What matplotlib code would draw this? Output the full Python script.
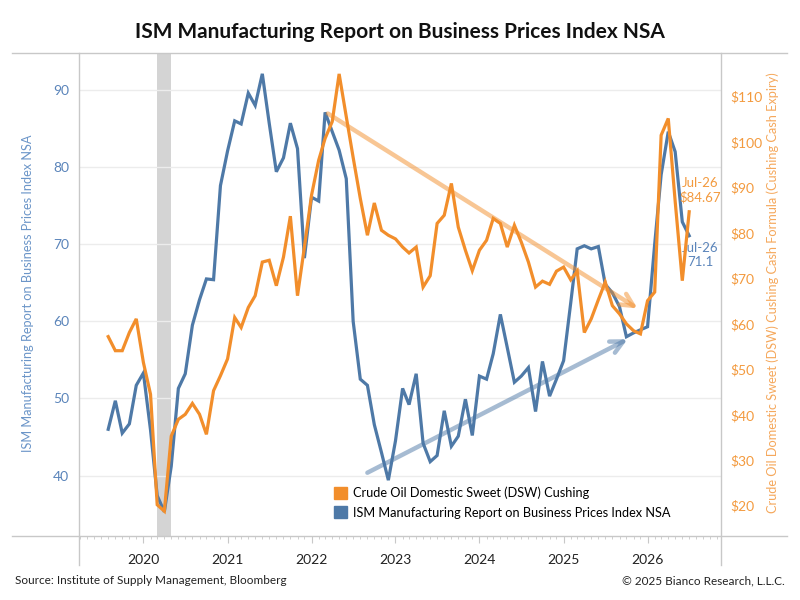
import matplotlib
matplotlib.use("Agg")
import matplotlib.pyplot as plt
import matplotlib.dates as mdates
from matplotlib.lines import Line2D
from matplotlib.patches import Patch
import pandas as pd

plt.rcParams['font.family'] = ['Lato', 'DejaVu Sans']

# monthly, Aug 2019 .. Jul 2026
dates = pd.date_range('2019-08-01', periods=84, freq='MS')

ism = [46.0, 49.7, 45.5, 46.7, 51.7,
       53.3, 45.9, 37.4, 35.3, 41.2, 51.3, 53.2, 59.5, 62.8, 65.5, 65.4, 77.6,
       82.1, 86.0, 85.6, 89.6, 88.0, 92.1, 85.7, 79.4, 81.2, 85.7, 82.4, 68.2,
       76.1, 75.6, 87.1, 84.6, 82.2, 78.5, 60.0, 52.5, 51.7, 46.6, 43.0, 39.4,
       44.5, 51.3, 49.2, 53.2, 44.2, 41.8, 42.6, 48.4, 43.8, 45.1, 49.9, 45.2,
       52.9, 52.5, 55.8, 60.9, 56.6, 52.1, 52.9, 54.0, 48.3, 54.8, 50.3, 52.5,
       54.9, 62.4, 69.4, 69.8, 69.4, 69.7, 64.8, 63.7, 61.9, 58.0, 58.5, 58.9,
       59.3, 70.0, 79.0, 84.6, 82.0, 72.9, 71.1]

oil = [57.2, 54.1, 54.1, 58.1, 61.1,
       51.5, 44.5, 20.2, 18.8, 35.3, 39.0, 40.1, 42.5, 40.1, 35.7, 45.3, 48.6,
       52.3, 61.4, 59.2, 63.6, 66.2, 73.6, 74.0, 68.4, 74.7, 83.7, 66.2, 76.9,
       88.3, 96.0, 100.8, 104.5, 115.0, 105.6, 96.6, 87.6, 79.5, 86.6, 80.6, 79.5,
       78.7, 76.9, 75.6, 76.9, 68.1, 70.6, 82.1, 83.9, 90.9, 81.3, 76.2, 71.7,
       76.2, 78.4, 83.2, 82.1, 76.9, 81.7, 78.0, 73.6, 68.1, 69.4, 68.7, 71.6,
       72.5, 69.7, 71.6, 58.1, 61.1, 65.3, 69.2, 64.0, 62.2, 60.0, 58.5, 57.8,
       65.1, 67.0, 101.5, 105.2, 87.0, 69.5, 84.67]

left_ticks = [40, 50, 60, 70, 80, 90]
right_ticks = [20, 30, 40, 50, 60, 70, 80, 90, 100, 110]
years = list(range(2020, 2027))

title = "ISM Manufacturing Report on Business Prices Index NSA"
ism_name = "ISM Manufacturing Report on Business Prices Index NSA"
oil_name = "Crude Oil Domestic Sweet (DSW) Cushing"
oil_axis = "Crude Oil Domestic Sweet (DSW) Cushing Cash Formula (Cushing Cash Expiry)"

blue = '#4e79a7'
orange = '#f28e2b'
blue_txt = '#5a84ba'
orange_txt = '#f39a3e'
frame = '#c8c8c8'

fig = plt.figure(figsize=(8, 6), dpi=100)
ax = fig.add_axes([79 / 800, 64 / 600, 641.7 / 800, 483 / 600])
ax2 = ax.twinx()

ax.set_xlim(pd.Timestamp('2019-03-27'), pd.Timestamp('2026-11-15'))
ax.set_ylim(32.16, 94.8)
ax2.set_ylim(13.33, 119.6)

# recession band
ax.axvspan(pd.Timestamp('2020-03-01'), pd.Timestamp('2020-05-01'), color='#d4d4d4', lw=0, zorder=0.5)
for v in left_ticks:
    ax.axhline(v, color='#ececec', lw=1, zorder=1)

ax.plot(dates, ism, color=blue, lw=2.3, zorder=3, solid_joinstyle='miter')
ax2.plot(dates, oil, color=orange, lw=2.3, zorder=3, solid_joinstyle='miter')

# trend arrows
ax.annotate('', xy=(pd.Timestamp('2025-10-17'), 57.85), xytext=(pd.Timestamp('2022-08-21'), 40.2),
            arrowprops=dict(arrowstyle='->,head_length=0.9,head_width=0.45', color=blue, alpha=0.5, lw=3.2),
            zorder=4)
ax2.annotate('', xy=(pd.Timestamp('2025-11-29'), 63.06), xytext=(pd.Timestamp('2022-03-03'), 106.6),
             arrowprops=dict(arrowstyle='->,head_length=0.9,head_width=0.45', color=orange, alpha=0.5, lw=3.2),
             zorder=4)

# end labels
ax2.text(pd.Timestamp('2026-08-17'), 89.5, "Jul-26\n$84.67", color=orange_txt, fontsize=9.5,
         ha='center', va='center', linespacing=1.2, zorder=5)
ax.text(pd.Timestamp('2026-08-17'), 68.6, "Jul-26\n71.1", color=blue_txt, fontsize=9.5,
        ha='center', va='center', linespacing=1.2, zorder=5)

for a in (ax, ax2):
    for s in a.spines.values():
        s.set_visible(False)

ax.set_yticks(left_ticks)
ax.tick_params(axis='y', length=0, pad=7, labelsize=10, labelcolor=blue_txt)
ax2.set_yticks(right_ticks)
ax2.set_yticklabels(['$%d' % v for v in right_ticks])
ax2.tick_params(axis='y', length=0, pad=7, labelsize=10, labelcolor=orange_txt)

ax.set_xticks([pd.Timestamp('%d-01-01' % y) for y in years])
ax.set_xticklabels([str(y) for y in years])
ax.xaxis.set_minor_locator(mdates.MonthLocator())
ax.tick_params(axis='x', which='major', length=5, color=frame, labelsize=10, labelcolor='#222222', pad=8)
ax.tick_params(axis='x', which='minor', length=2, color=frame)

# frame lines that run past the plot area
top, bot = 1 - 53 / 600, 1 - 536 / 600
low = 1 - 565 / 600
for (x0, x1, y0, y1) in [(12 / 800, 787 / 800, top, top), (12 / 800, 787 / 800, bot, bot),
                         (79 / 800, 79 / 800, top, low), (720.7 / 800, 720.7 / 800, top, low)]:
    fig.add_artist(Line2D([x0, x1], [y0, y1], color=frame, lw=1))

handles = [Patch(color=orange, label=oil_name), Patch(color=blue, label=ism_name)]
ax.legend(handles=handles, loc='upper left', bbox_to_anchor=(0.397, 0.102), frameon=False,
          fontsize=9.2, handlelength=1.05, handleheight=1.05, handletextpad=0.45, labelspacing=0.55,
          borderaxespad=0, borderpad=0)

fig.text(0.5, 0.947, title, ha='center', va='center', fontsize=15, fontweight='bold', color='#111111')
fig.text(28 / 800, 0.512, ism_name, rotation=90, ha='center', va='center', fontsize=9.2, color='#6b95c8')
fig.text(773 / 800, 0.512, oil_axis, rotation=90, ha='center', va='center', fontsize=9.2, color='#f5a85c')
fig.text(15 / 800, 1 - 581 / 600, "Source: Institute of Supply Management, Bloomberg", ha='left',
         va='center', fontsize=8.5, color='#222222')
fig.text(785 / 800, 1 - 581 / 600, "\u00a9 2025 Bianco Research, L.L.C.", ha='right',
         va='center', fontsize=8.5, color='#222222')

fig.savefig('out.png', dpi=100)
